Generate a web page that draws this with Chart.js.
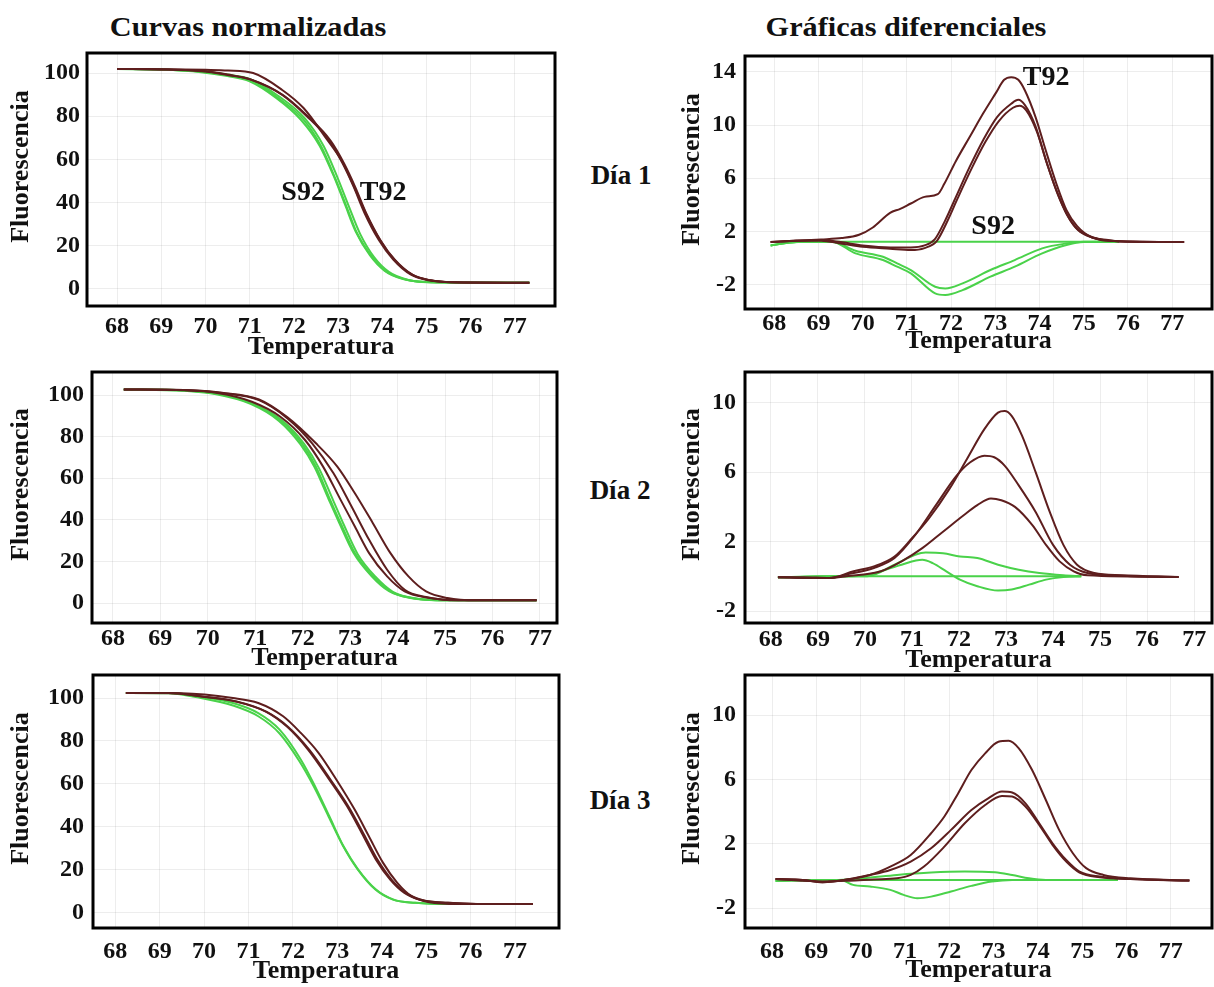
<!DOCTYPE html>
<html>
<head>
<meta charset="utf-8">
<script src="https://cdn.jsdelivr.net/npm/chart.js@4.4.0/dist/chart.umd.min.js"></script>
<style>
body { margin:0; background:#fff; width:1214px; height:987px; position:relative; overflow:hidden;
       font-family:"Liberation Serif", serif; font-weight:bold; color:#111; }
canvas { position:absolute; }
.lbl { position:absolute; font-size:27px; white-space:nowrap; transform:translate(-50%,-50%); }
.head { font-size:28px; transform:translate(-50%,-50%) scaleX(1.08); }
</style>
</head>
<body>
<div class="lbl head" style="left:248px;top:27px">Curvas normalizadas</div>
<div class="lbl head" style="left:906px;top:27px">Gráficas diferenciales</div>
<div class="lbl" style="left:621px;top:175px">Día 1</div>
<div class="lbl" style="left:620px;top:490px">Día 2</div>
<div class="lbl" style="left:620px;top:800px">Día 3</div>
<script>
// tick labels
const tempTicks = [68, 69, 70, 71, 72, 73, 74, 75, 76, 77];
const normTicks = [0, 20, 40, 60, 80, 100];
const diffTicksDay1 = [-2, 2, 6, 10, 14];
const diffTicksDay23 = [-2, 2, 6, 10];

// Día 1 - curvas normalizadas  [temperatura, fluorescencia]
const d1NormT92a = [[68,101.9],[69,101.7],[70,100.8],[70.5,99.3],[71.0,97.2],[71.73,90.0],[72.3,79.9],[72.79,69.1],[73.1,58.3],[73.35,47.5],[73.6,35.2],[73.92,22.8],[74.25,13.6],[74.65,6.6],[75.06,4.0],[75.54,3.1],[77.33,2.9]];
const d1NormT92b = [[68,101.9],[69,101.7],[70,100.7],[70.5,99.1],[71.04,96.9],[71.77,89.6],[72.34,79.5],[72.83,68.7],[73.14,58],[73.39,47.2],[73.64,35],[73.96,22.6],[74.29,13.4],[74.69,6.5],[75.1,4.0],[75.58,3.1],[77.33,2.9]];
const d1NormT92c = [[68,101.9],[69,101.8],[70,101.5],[70.51,101.2],[71.08,100],[71.73,92.3],[72.22,83.8],[72.7,70.7],[73.1,58.8],[73.35,48],[73.62,35.5],[73.94,23],[74.27,13.7],[74.67,6.7],[75.08,4.0],[75.56,3.1],[77.33,2.9]];
const d1NormS92a = [[68,101.9],[69,101.6],[69.9,100.6],[70.5,99],[71.0,96.9],[71.65,88.4],[72.22,78.4],[72.62,66.0],[72.95,50.6],[73.19,38.3],[73.43,25.9],[73.76,15.1],[74.08,8.2],[74.49,4.6],[75.06,3.1],[76,2.9],[77.33,2.9]];
const d1NormS92b = [[68,101.9],[69,101.7],[69.9,100.8],[70.5,99.3],[71.0,97.3],[71.65,89.4],[72.25,79],[72.68,66],[73.0,51],[73.25,38],[73.5,25.5],[73.82,14.6],[74.15,7.9],[74.55,4.4],[75.1,3.1],[77.33,2.9]];
const d1NormS92c = [[68,101.9],[69,101.6],[69.9,100.4],[70.5,98.6],[71.0,96.2],[71.6,88.5],[72.15,78.6],[72.58,66.5],[72.92,51.5],[73.16,39],[73.4,26.6],[73.72,15.6],[74.05,8.5],[74.45,4.7],[75.0,3.2],[77.33,2.9]];

// Día 1 - gráficas diferenciales
const d1DiffT92a = [[67.92,1.2],[68.43,1.3],[69.06,1.4],[69.53,1.5],[69.92,1.75],[70.23,2.3],[70.62,3.4],[70.85,3.7],[71.09,4.1],[71.4,4.6],[71.7,4.8],[71.85,5.6],[72.11,7.3],[72.42,9.1],[72.73,10.9],[73.01,12.4],[73.2,13.4],[73.36,13.6],[73.52,13.4],[73.67,12.6],[73.91,10.6],[74.14,8.1],[74.38,5.6],[74.61,3.6],[74.85,2.4],[75.16,1.6],[75.55,1.35],[75.79,1.25],[77.27,1.2]];
const d1DiffT92b = [[67.92,1.2],[68.5,1.3],[69.06,1.35],[69.5,1.2],[70.0,0.95],[70.62,0.8],[71.09,0.8],[71.4,0.95],[71.63,1.4],[71.87,2.85],[72.11,4.6],[72.42,6.85],[72.73,8.9],[73.04,10.6],[73.36,11.6],[73.52,11.9],[73.67,11.5],[73.91,9.9],[74.14,7.4],[74.38,5.1],[74.61,3.35],[74.85,2.2],[75.16,1.6],[75.55,1.3],[77.27,1.2]];
const d1DiffT92c = [[67.92,1.2],[68.5,1.3],[69.06,1.3],[69.5,1.1],[70.0,0.85],[70.62,0.7],[71.09,0.6],[71.4,0.75],[71.68,1.3],[71.92,2.8],[72.15,4.5],[72.46,6.7],[72.77,8.7],[73.08,10.3],[73.4,11.3],[73.55,11.45],[73.7,11.1],[73.94,9.5],[74.17,7.1],[74.4,4.9],[74.63,3.2],[74.87,2.1],[75.18,1.55],[75.57,1.3],[77.27,1.2]];
const d1DiffS92a = [[67.92,0.95],[68.3,1.15],[68.8,1.23],[75.8,1.23]];
const d1DiffS92b = [[67.92,0.95],[68.5,1.2],[69.3,1.23],[69.84,0.35],[70.46,-0.15],[70.78,-0.65],[71.09,-1.15],[71.64,-2.66],[71.87,-2.78],[72.26,-2.41],[72.89,-1.4],[73.44,-0.65],[74.06,0.35],[74.61,0.98],[75.0,1.2],[75.8,1.23]];
const d1DiffS92c = [[67.92,0.95],[68.5,1.2],[69.3,1.23],[69.84,0.55],[70.46,0.1],[70.78,-0.4],[71.09,-0.9],[71.64,-2.16],[71.87,-2.28],[72.26,-1.9],[72.89,-0.9],[73.44,-0.15],[74.06,0.73],[74.61,1.1],[75.0,1.23],[75.8,1.23]];

// Día 2 - curvas normalizadas
const d2NormT92a = [[68.23,102.7],[69.5,102.3],[70.2,101],[70.93,96.8],[71.53,89.6],[72.05,78.4],[72.43,65.6],[72.8,49.6],[73.1,36.8],[73.4,24],[73.78,12.8],[74.15,5.6],[74.68,2.4],[75.28,1.3],[76.93,1.3]];
const d2NormT92b = [[68.23,102.7],[69.5,102.4],[70.3,101],[71.08,97.6],[71.68,88.8],[72.2,76.8],[72.65,62.4],[73.03,46.4],[73.4,30.4],[73.78,16],[74.15,6.4],[74.6,2.9],[75.28,1.3],[76.93,1.3]];
const d2NormT92c = [[68.23,102.7],[69.5,102.4],[70.3,101.1],[71.08,97.9],[71.68,89.3],[72.28,76.8],[72.73,65.6],[73.1,52.8],[73.48,38.4],[73.85,24],[74.23,12.8],[74.6,5.6],[75.05,2.4],[75.65,1.3],[76.93,1.3]];
const d2NormS92a = [[68.23,102.7],[69,102.7],[69.5,102.2],[70.18,100.8],[70.93,96],[71.53,88],[71.98,76.8],[72.28,65.6],[72.58,49.6],[72.8,38.4],[73.1,24],[73.48,12.8],[73.85,5.6],[74.3,2.4],[75.05,1.3],[76.93,1.3]];
const d2NormS92b = [[68.23,102.7],[69.5,102.2],[70.2,100.6],[70.98,95.5],[71.58,87.5],[72.03,76.5],[72.34,65],[72.64,49.5],[72.86,38],[73.16,23.5],[73.54,12.5],[73.9,5.4],[74.35,2.3],[75.1,1.3],[76.93,1.3]];
const d2NormS92c = [[68.23,102.7],[69.5,102.1],[70.15,100.5],[70.9,95.8],[71.5,87.6],[71.95,76.4],[72.25,65.4],[72.55,49.8],[72.77,38.6],[73.07,24.2],[73.45,13],[73.82,5.7],[74.27,2.4],[75.0,1.3],[76.93,1.3]];

// Día 2 - gráficas diferenciales
const d2DiffT92a = [[68.15,-0.06],[68.7,-0.05],[69.24,-0.1],[69.76,0.29],[70.19,0.57],[70.63,1.14],[71.0,2.19],[71.36,3.33],[71.8,5.05],[72.17,6.76],[72.54,8.48],[72.83,9.43],[72.97,9.52],[73.12,9.24],[73.34,8.1],[73.63,6.0],[73.93,3.71],[74.22,1.81],[74.51,0.67],[74.88,0.19],[75.46,0.06],[76.67,-0.04]];
const d2DiffT92b = [[68.15,-0.06],[69.24,-0.1],[69.61,0.1],[70.19,0.48],[70.63,1.05],[71.07,2.38],[71.51,4.1],[71.95,5.8],[72.24,6.57],[72.54,6.95],[72.75,6.86],[72.97,6.38],[73.27,5.24],[73.63,3.71],[74.0,1.81],[74.36,0.67],[74.73,0.19],[75.3,0.05],[76.67,-0.04]];
const d2DiffT92c = [[68.15,-0.06],[69.24,-0.1],[69.61,0],[70.34,0.29],[70.78,0.86],[71.22,1.62],[71.66,2.57],[72.1,3.52],[72.39,4.1],[72.68,4.48],[72.9,4.38],[73.19,4.0],[73.56,2.95],[73.85,1.81],[74.14,0.86],[74.44,0.29],[74.73,0.06],[76.67,-0.04]];
const d2DiffS92a = [[68.15,-0.06],[69.0,0],[74.6,0]];
const d2DiffS92b = [[68.15,-0.06],[69.5,0],[70.05,0],[70.63,0.67],[71.07,1.24],[71.29,1.37],[71.66,1.33],[72.02,1.14],[72.39,1.05],[72.83,0.67],[73.27,0.38],[73.71,0.19],[74.22,0.06],[74.6,0]];
const d2DiffS92c = [[68.15,-0.06],[69.5,0],[70.0,0.05],[70.34,0.29],[70.78,0.67],[71.22,0.95],[71.44,0.76],[71.73,0.29],[72.02,-0.19],[72.39,-0.57],[72.83,-0.82],[73.12,-0.76],[73.49,-0.48],[73.85,-0.19],[74.22,-0.04],[74.6,0]];

// Día 3 - curvas normalizadas
const d3NormT92a = [[68.24,102.3],[69.2,102.3],[69.93,100.8],[70.73,98.4],[71.38,93.8],[71.86,86.8],[72.34,76],[72.82,62],[73.22,49.6],[73.55,37.2],[73.87,24.8],[74.19,15.5],[74.51,9.3],[74.91,5.9],[75.48,4.7],[76.12,4.2],[77.4,4.2]];
const d3NormT92b = [[68.24,102.3],[69.2,102.3],[69.93,100.7],[70.75,98.2],[71.41,93.5],[71.9,86.4],[72.38,75.6],[72.86,61.6],[73.26,49.2],[73.59,36.9],[73.91,24.6],[74.23,15.3],[74.55,9.2],[74.95,5.8],[75.5,4.7],[76.15,4.2],[77.4,4.2]];
const d3NormT92c = [[68.24,102.3],[69.5,102.2],[70.65,100],[71.22,97.7],[71.78,91.5],[72.18,83.7],[72.58,74.4],[72.98,62],[73.39,48.1],[73.71,35.7],[74.03,23.3],[74.35,14],[74.67,7.8],[75.07,5],[75.72,4.2],[77.4,4.2]];
const d3NormS92a = [[68.24,102.3],[69.2,102.3],[69.93,100.5],[70.65,97.7],[71.22,93],[71.7,85.3],[72.18,71.3],[72.5,58.9],[72.82,45],[73.14,31],[73.47,20.2],[73.87,10.9],[74.27,6.2],[74.75,4.7],[75.3,4.2],[77.4,4.2]];
const d3NormS92b = [[68.24,102.3],[69.2,102.2],[69.93,100],[70.65,96.5],[71.22,91.5],[71.7,83.5],[72.15,70.5],[72.48,58.5],[72.8,45],[73.12,31.5],[73.45,20.5],[73.85,11],[74.25,6.2],[74.75,4.7],[75.3,4.2],[77.4,4.2]];

// Día 3 - gráficas diferenciales
const d3DiffT92a = [[68.08,-0.2],[68.69,-0.25],[69.14,-0.39],[69.75,-0.2],[70.21,0.06],[70.67,0.58],[71.13,1.3],[71.59,2.65],[71.89,3.69],[72.2,5.13],[72.5,6.58],[72.81,7.62],[73.11,8.34],[73.34,8.4],[73.57,7.93],[73.87,6.58],[74.18,4.72],[74.48,2.86],[74.79,1.41],[75.09,0.48],[75.48,0.06],[76.09,-0.15],[77.42,-0.29]];
const d3DiffT92b = [[68.08,-0.2],[68.69,-0.25],[69.14,-0.39],[69.75,-0.2],[70.21,0.06],[70.67,0.37],[71.13,0.89],[71.59,1.72],[72.04,2.86],[72.5,4.1],[72.88,4.82],[73.19,5.24],[73.42,5.18],[73.72,4.51],[74.03,3.27],[74.33,2.03],[74.64,0.99],[74.94,0.27],[75.4,-0.04],[76.09,-0.2],[77.42,-0.29]];
const d3DiffT92c = [[68.08,-0.2],[69.14,-0.35],[69.75,-0.3],[70.3,-0.22],[70.82,-0.15],[71.13,0.06],[71.43,0.58],[71.89,1.82],[72.35,3.27],[72.81,4.41],[73.19,4.97],[73.42,4.93],[73.72,4.31],[74.03,3.17],[74.33,1.93],[74.64,0.89],[74.94,0.21],[75.4,-0.08],[76.09,-0.2],[77.42,-0.29]];
const d3DiffS92a = [[68.08,-0.3],[68.5,-0.25],[75.8,-0.25]];
const d3DiffS92b = [[68.08,-0.3],[69.5,-0.25],[70.06,-0.15],[70.82,0.06],[71.59,0.21],[72.35,0.27],[73.03,0.23],[73.42,0.06],[73.8,-0.15],[74.18,-0.25],[75.8,-0.25]];
const d3DiffS92c = [[68.08,-0.3],[69.3,-0.25],[69.6,-0.29],[69.83,-0.56],[70.21,-0.66],[70.67,-0.87],[70.97,-1.18],[71.28,-1.39],[71.59,-1.29],[72.04,-0.97],[72.5,-0.62],[72.96,-0.35],[73.42,-0.25],[75.8,-0.25]];

const BROWN = '#5e1e1e';
const GREEN = '#4ad24a';
const FONT = '"Liberation Serif", "Times New Roman", serif';

Chart.defaults.font.family = FONT;
Chart.defaults.font.weight = 'bold';
Chart.defaults.color = '#111';

// thick frame round the plot area
const boxPlugin = {
    id: 'box',
    afterDatasetsDraw(chart) {
        const a = chart.chartArea;
        const ctx = chart.ctx;
        ctx.save();
        ctx.lineWidth = 3;
        ctx.strokeStyle = '#000';
        ctx.strokeRect(a.left, a.top, a.right - a.left, a.bottom - a.top);
        ctx.restore();
    }
};

// S92 / T92 tags, placed in data units
const tagPlugin = {
    id: 'tags',
    afterDatasetsDraw(chart, args, opts) {
        const items = opts.items || [];
        const ctx = chart.ctx;
        ctx.save();
        ctx.font = 'bold 28px ' + FONT;
        ctx.fillStyle = '#111';
        ctx.textAlign = 'center';
        ctx.textBaseline = 'middle';
        for (let i = 0; i < items.length; i++) {
            const t = items[i];
            ctx.fillText(t.text, chart.scales.x.getPixelForValue(t.x), chart.scales.y.getPixelForValue(t.y));
        }
        ctx.restore();
    }
};

function line(points, color) {
    return {
        data: points.map(p => ({x: p[0], y: p[1]})),
        borderColor: color,
        borderWidth: 2,
        pointRadius: 0,
        fill: false,
        cubicInterpolationMode: 'monotone'
    };
}

function addPanel(p) {
    const c = document.createElement('canvas');
    c.width = p.w;
    c.height = p.h;
    c.style.left = p.left + 'px';
    c.style.top = p.top + 'px';
    document.body.appendChild(c);

    const datasets = p.brown.map(s => line(s, BROWN)).concat(p.green.map(s => line(s, GREEN)));

    new Chart(c, {
        type: 'line',
        data: { datasets: datasets },
        options: {
            responsive: false,
            animation: false,
            devicePixelRatio: 1,
            layout: { padding: { top: 2, right: 2, left: 0, bottom: 0 } },
            plugins: {
                legend: { display: false },
                tooltip: { enabled: false },
                tags: { items: p.tags || [] }
            },
            scales: {
                x: {
                    type: 'linear',
                    min: p.xMin, max: p.xMax,
                    afterBuildTicks: s => { s.ticks = tempTicks.map(v => ({value: v})); },
                    afterFit: s => { s.height = p.xH; s.paddingLeft = 0; s.paddingRight = 0; },
                    grid: { color: 'rgba(0,0,0,0.07)', drawTicks: false },
                    border: { display: false },
                    ticks: { font: { size: 24 }, padding: p.xPad, maxRotation: 0 },
                    title: { display: true, text: 'Temperatura', font: { size: 26 }, padding: { top: 0, bottom: 0 } }
                },
                y: {
                    type: 'linear',
                    min: p.yMin, max: p.yMax,
                    afterBuildTicks: s => { s.ticks = p.yTicks.map(v => ({value: v})); },
                    afterFit: s => { s.width = p.yW; s.paddingTop = 0; s.paddingBottom = 0; },
                    grid: { color: 'rgba(0,0,0,0.07)', drawTicks: false },
                    border: { display: false },
                    ticks: { font: { size: 24 }, padding: p.yPad },
                    title: { display: true, text: '    Fluorescencia', font: { size: 26 }, padding: { top: 6, bottom: 0 } }
                }
            }
        },
        plugins: [boxPlugin, tagPlugin]
    });
}

addPanel({ left: 0, top: 51, w: 557, h: 312, yW: 87, xH: 57, xPad: 6, yPad: 7,
    xMin: 67.32, xMax: 77.91, yMin: -7.9, yMax: 109.3, yTicks: normTicks,
    brown: [d1NormT92a, d1NormT92b, d1NormT92c], green: [d1NormS92a, d1NormS92b, d1NormS92c],
    tags: [{text: 'S92', x: 72.21, y: 44.4}, {text: 'T92', x: 74.02, y: 44.4}] });

addPanel({ left: 671, top: 54, w: 543, h: 303, yW: 74, xH: 48, xPad: 0, yPad: 9,
    xMin: 67.34, xMax: 77.90, yMin: -3.83, yMax: 15.19, yTicks: diffTicksDay1,
    brown: [d1DiffT92a, d1DiffT92b, d1DiffT92c], green: [d1DiffS92a, d1DiffS92b, d1DiffS92c],
    tags: [{text: 'T92', x: 74.15, y: 13.53}, {text: 'S92', x: 72.95, y: 2.33}] });

addPanel({ left: 0, top: 370, w: 559, h: 304, yW: 92, xH: 51, xPad: 1, yPad: 8,
    xMin: 67.56, xMax: 77.36, yMin: -9.6, yMax: 111.1, yTicks: normTicks,
    brown: [d2NormT92a, d2NormT92b, d2NormT92c], green: [d2NormS92a, d2NormS92b, d2NormS92c] });

addPanel({ left: 671, top: 370, w: 543, h: 306, yW: 74, xH: 53, xPad: 2, yPad: 9,
    xMin: 67.45, xMax: 77.38, yMin: -2.69, yMax: 11.77, yTicks: diffTicksDay23,
    brown: [d2DiffT92a, d2DiffT92b, d2DiffT92c], green: [d2DiffS92a, d2DiffS92b, d2DiffS92c] });

addPanel({ left: 0, top: 673, w: 561, h: 314, yW: 93, xH: 59, xPad: 9, yPad: 9,
    xMin: 67.50, xMax: 77.99, yMin: -7.0, yMax: 110.7, yTicks: normTicks,
    brown: [d3NormT92a, d3NormT92b, d3NormT92c], green: [d3NormS92a, d3NormS92b] });

addPanel({ left: 671, top: 673, w: 543, h: 313, yW: 74, xH: 58, xPad: 9, yPad: 9,
    xMin: 67.39, xMax: 77.93, yMin: -3.24, yMax: 12.49, yTicks: diffTicksDay23,
    brown: [d3DiffT92a, d3DiffT92b, d3DiffT92c], green: [d3DiffS92a, d3DiffS92b, d3DiffS92c] });
</script>
</body>
</html>
